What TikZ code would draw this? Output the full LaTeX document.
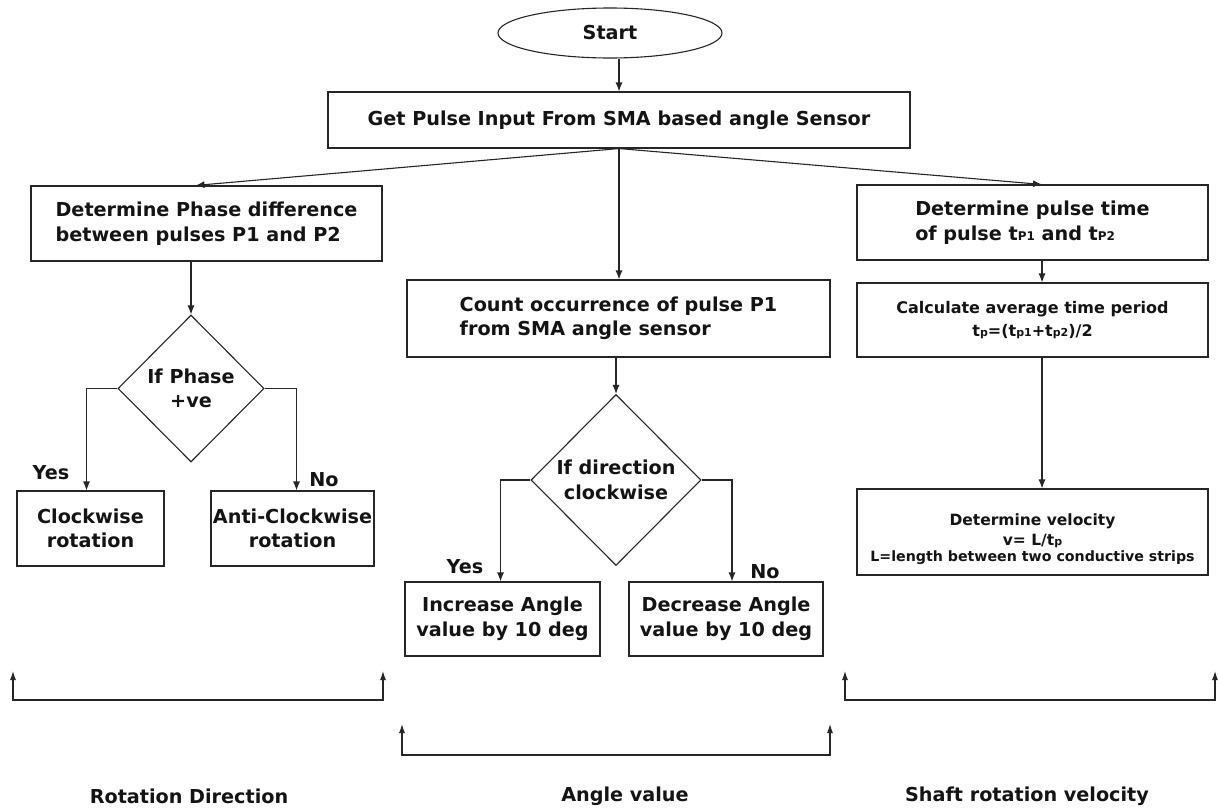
\documentclass[tikz,border=0pt]{standalone}
\usepackage{fontspec}
\setmainfont{DejaVu Sans}
\usetikzlibrary{shapes.geometric,arrows.meta,calc}
\newcommand\smallsub[1]{{\fontsize{12}{12}\selectfont #1}}
\newcommand\tinysub[1]{{\fontsize{11}{11}\selectfont #1}}
\begin{document}
\begin{tikzpicture}[x=1pt,y=-1pt,
  every node/.style={text=black!92},
  txt/.style={font=\bfseries\fontsize{19.2}{24.5}\selectfont},
  stxt/.style={font=\bfseries\fontsize{16}{23}\selectfont},
  vtxt/.style={font=\bfseries\fontsize{15.5}{20}\selectfont},
  wtxt/.style={font=\bfseries\fontsize{14.2}{18}\selectfont},
  box/.style={draw=black!85, line width=1.1pt, rectangle, inner sep=0pt},
  dia/.style={draw=black!85, line width=1.1pt, diamond, inner sep=0pt, aspect=1},
  conn/.style={draw=black!85, line width=1.1pt, -{Latex[length=9pt,width=7pt]}},
  brk/.style={draw=black!85, line width=1.1pt, {Latex[length=9pt,width=6pt]}-{Latex[length=9pt,width=6pt]}}]
\useasboundingbox (0,0) rectangle (1218,809);
\fill[white] (0,0) rectangle (1218,809);

% nodes
\node[draw=black!85, line width=1.1pt, ellipse, minimum width=224, minimum height=50, inner sep=0pt, txt] (start) at (610,33) {Start};
\node[box, minimum width=582, minimum height=56, txt] (main) at (619,120) {Get Pulse Input From SMA based angle Sensor};

\node[box, minimum width=351, minimum height=75, txt, align=left] (lbox) at (206.5,223.5) {Determine Phase difference\\between pulses P1 and P2};
\node[dia, minimum width=146, minimum height=147, txt, align=center] (d1) at (191,388.5) {If Phase\\+ve};
\node[box, minimum width=147, minimum height=75, txt, align=center] (cw) at (90.5,528.5) {Clockwise\\rotation};
\node[box, minimum width=163, minimum height=75, txt, align=center] (acw) at (292.5,528.5) {Anti-Clockwise\\rotation};

\node[box, minimum width=423, minimum height=77, txt, align=left] (count) at (618.5,318.5) {Count occurrence of pulse P1\\from SMA angle sensor};
\node[dia, minimum width=170, minimum height=171, txt, align=center] (d2) at (616,480) {If direction\\clockwise};
\node[box, minimum width=195, minimum height=74, txt, align=center] (inc) at (502.5,619) {Increase Angle\\value by 10 deg};
\node[box, minimum width=194, minimum height=74, txt, align=center] (dec) at (726,619) {Decrease Angle\\value by 10 deg};

\node[box, minimum width=351, minimum height=75, txt, align=left] (rbox) at (1032.5,222.5) {Determine pulse time\\of pulse t\smallsub{P1} and t\smallsub{P2}};
\node[box, minimum width=351, minimum height=74, stxt, align=center] (calc) at (1032.5,320) {Calculate average time period\\t\tinysub{p}=(t\tinysub{p1}+t\tinysub{p2})/2};
\node[box, minimum width=351, minimum height=86] (vel) at (1032.5,532) {};
\node[vtxt, anchor=base] (vel1) at (1032.5,525) {Determine velocity};
\node[vtxt, anchor=base] (vel2) at (1032.5,545) {v= L/t\tinysub{p}};
\node[wtxt, anchor=base] (vel3) at (1032.5,561) {L=length between two conductive strips};

% yes/no labels
\node[txt] (y1) at (51,473) {Yes};
\node[txt] (n1) at (324,480) {No};
\node[txt] (y2) at (465,567) {Yes};
\node[txt] (n2) at (765,572) {No};

% bottom labels
\node[txt] (l1) at (189,796) {Rotation Direction};
\node[txt] (l2) at (625,796) {Angle value};
\node[txt] (l3) at (1027,796) {Shaft rotation velocity};

% connectors
\draw[conn] (start.south -| main.north) -- (main.north);
\draw[conn] (main.south) -- ($(lbox.north)+(-11,0)$);
\draw[conn] (main.south) -- (count.north -| main.south);
\draw[conn] (main.south) -- ($(rbox.north)+(9.5,0)$);

\draw[conn] (lbox.south -| d1.north) -- (d1.north);
\draw[conn] (d1.west) -| ($(cw.north)+(-4,0)$);
\draw[conn] (d1.east) -| ($(acw.north)+(4,0)$);

\draw[conn] (count.south -| d2.north) -- (d2.north);
\draw[conn] (d2.west) -| ($(inc.north)+(-2,0)$);
\draw[conn] (d2.east) -| ($(dec.north)+(6,0)$);

\draw[conn] ($(rbox.south)+(9.5,0)$) -- ($(calc.north)+(9.5,0)$);
\draw[conn] ($(calc.south)+(9.5,0)$) -- ($(vel.north)+(9.5,0)$);

% brackets
\coordinate (b1a) at (13,671);
\coordinate (b1b) at (383,671);
\coordinate (b2a) at (402,724);
\coordinate (b2b) at (830,724);
\coordinate (b3a) at (845,671);
\coordinate (b3b) at (1215,671);
\draw[brk] (b1a) -- ++(0,29) -| (b1b);
\draw[brk] (b2a) -- ++(0,31) -| (b2b);
\draw[brk] (b3a) -- ++(0,29) -| (b3b);
\end{tikzpicture}
\end{document}
